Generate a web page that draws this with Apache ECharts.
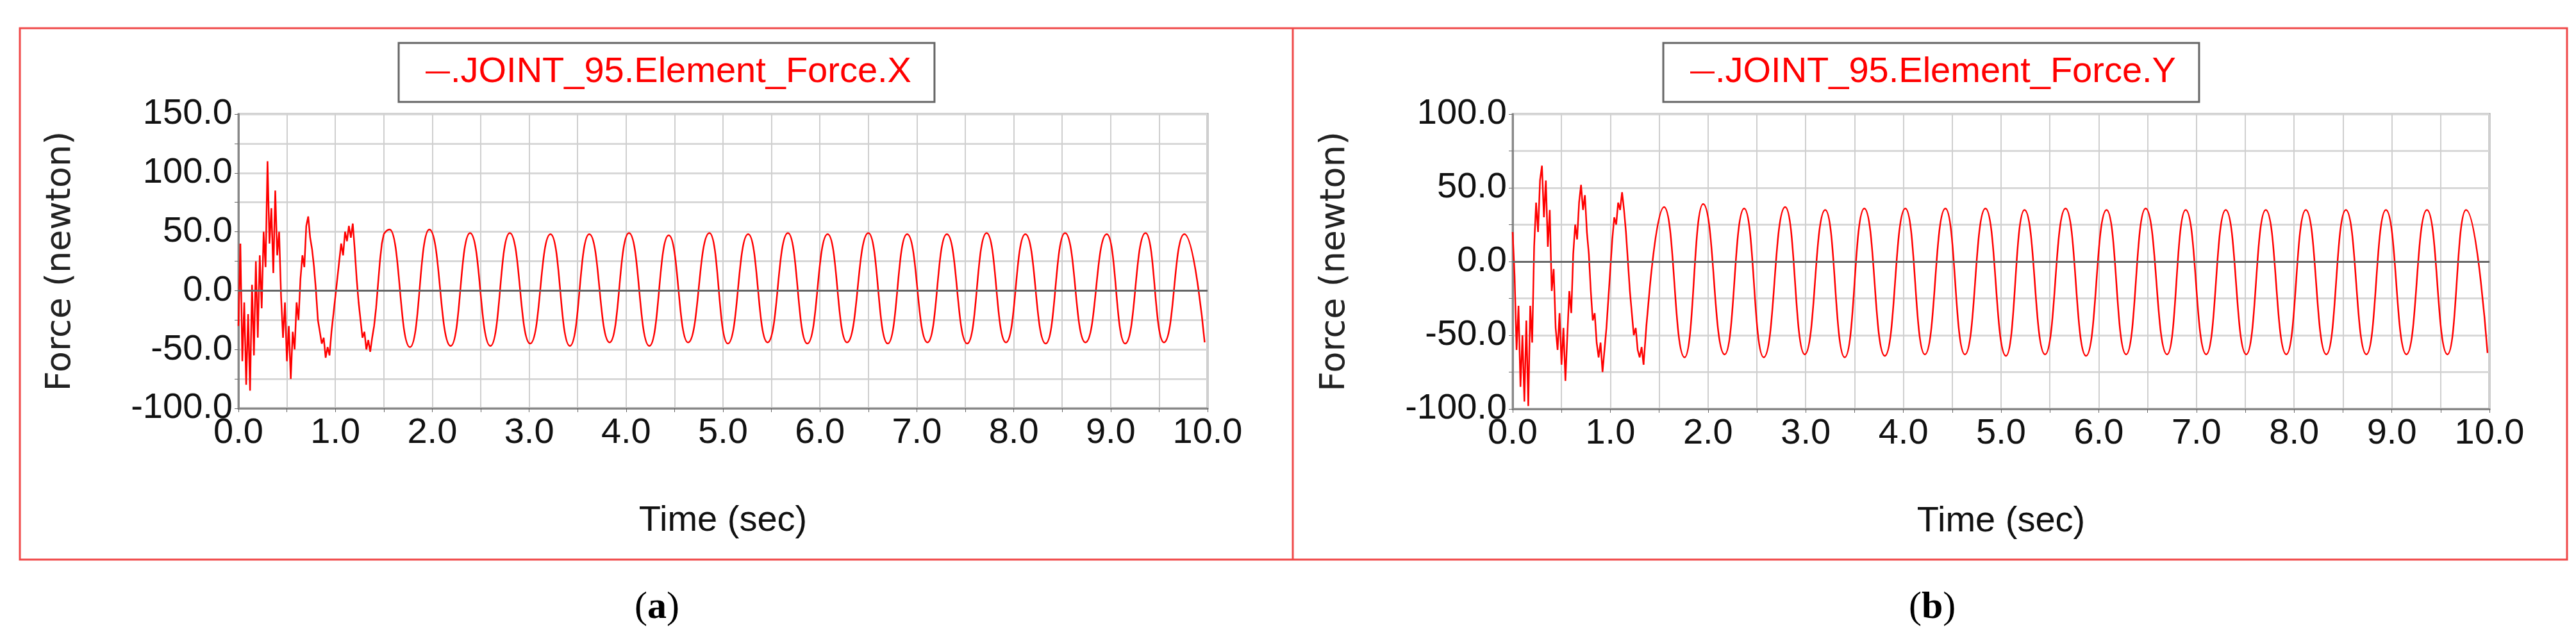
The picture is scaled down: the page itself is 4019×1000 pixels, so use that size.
<!DOCTYPE html>
<html>
<head>
<meta charset="utf-8">
<script src="https://cdn.jsdelivr.net/npm/echarts@6/dist/echarts.min.js"></script>
<style>html,body{margin:0;padding:0;background:#fff}#chart{width:4019px;height:1000px}</style>
</head>
<body>
<div id="chart"></div>
<script>
// panel (a) - X force
var noiseA = [-30,40,-60,-10,-80,-20,-85,5,-55,25,-40,30,-15,50,20,110,40,70,15,85,30,50,-5,-40,-10,-60,-30,-75,-35,-50,
  -10,-25,10,30,20,55,63,45,35,20,0,-25,-35,-45,-40,-57,-48,-55,-35,-20,-5,10,25,40,30,50,42,55,45,57,
  35,10,-10,-25,-40,-35,-50,-42,-52,-40,-30,-15,5,25,40,48];
var peakTA = [1.56,1.97,2.39,2.80,3.22,3.62,4.03,4.44,4.86,5.26,5.67,6.08,6.50,6.90,7.31,7.72,8.12,8.53,8.96,9.36,9.76];
var peakVA = [52,52,49,49,48,48,49,47,49,48,49,48,49,48,48,49,48,49,48,49,48];
var troughTA = [1.77,2.19,2.60,3.01,3.42,3.83,4.24,4.64,5.05,5.46,5.87,6.28,6.70,7.11,7.52,7.92,8.33,8.74,9.15,9.55,9.97];
var troughVA = [-48,-47,-47,-45,-47,-44,-47,-44,-45,-44,-45,-44,-45,-44,-45,-44,-45,-44,-45,-44,-44];

// panel (b) - Y force
var noiseB = [20,-10,-60,-30,-85,-50,-95,-40,-98,-30,-55,10,40,20,55,65,30,55,10,35,-20,-5,-45,-60,-35,-70,-45,-81,-50,-20,
  -35,5,25,15,40,52,35,45,20,5,-20,-40,-35,-55,-65,-55,-75,-60,-45,-25,-5,15,30,25,40,35,47,35,20,0,
  -20,-35,-50,-45,-60,-65,-58,-70];
var peakTB = [1.55,1.95,2.37,2.79,3.20,3.60,4.02,4.43,4.84,5.24,5.66,6.08,6.48,6.89,7.30,7.71,8.12,8.53,8.94,9.36,9.76];
var peakVB = [37,39,36,37,35,36,36,36,36,35,36,35,36,35,35,35,35,35,35,35,35];
var troughTB = [1.76,2.17,2.57,2.99,3.40,3.81,4.22,4.63,5.05,5.45,5.87,6.28,6.70,7.10,7.51,7.92,8.33,8.74,9.15,9.57,9.98];
var troughVB = [-65,-63,-65,-63,-65,-64,-63,-63,-64,-63,-64,-63,-63,-63,-63,-63,-63,-63,-63,-63,-62];

var noiseStep = 0.02;
var red = '#ff0000';

function noisePts(arr) {
  return arr.map(function (v, i) { return [+(i * noiseStep).toFixed(2), v]; });
}
function steadyPts(noise, pt, pv, tt, tv) {
  var last = noise[noise.length - 1];
  var pts = [[(noise.length - 1) * noiseStep, last]];
  var all = [];
  pt.forEach(function (t, i) { all.push([t, pv[i]]); });
  tt.forEach(function (t, i) { all.push([t, tv[i]]); });
  all.sort(function (a, b) { return a[0] - b[0]; });
  return pts.concat(all);
}

var fmt = function (v) { return v.toFixed(1); };
var labelFont = { fontFamily: 'Liberation Sans', fontSize: 56, color: '#111' };

function xAxis(idx) {
  return {
    type: 'value', gridIndex: idx, min: 0, max: 10, interval: 1,
    name: 'Time (sec)', nameLocation: 'middle', nameGap: 148,
    nameTextStyle: labelFont,
    axisLine: { onZero: false, lineStyle: { color: '#888', width: 3 } },
    axisTick: { show: true, length: 6, lineStyle: { color: '#666' } },
    minorTick: { show: true, splitNumber: 2, length: 6, lineStyle: { color: '#666' } },
    axisLabel: Object.assign({ formatter: fmt, margin: 11 }, labelFont),
    splitLine: { show: true, lineStyle: { color: '#cfcfcf', width: 2 } },
    minorSplitLine: { show: true, lineStyle: { color: '#cfcfcf', width: 2 } }
  };
}
function yAxis(idx, min, max) {
  return {
    type: 'value', gridIndex: idx, min: min, max: max, interval: 50,
    name: 'Force (newton)', nameLocation: 'middle', nameGap: 250,
    nameTextStyle: { fontFamily: 'DejaVu Sans', fontSize: 54, color: '#222' },
    axisLine: { show: true, lineStyle: { color: '#888', width: 3 } },
    axisTick: { show: true, length: 6, lineStyle: { color: '#666' } },
    minorTick: { show: true, splitNumber: 2, length: 6, lineStyle: { color: '#666' } },
    axisLabel: Object.assign({ formatter: fmt, margin: 9 }, labelFont),
    splitLine: { show: true, lineStyle: { color: '#d8d8d8', width: 3 } },
    minorSplitLine: { show: true, lineStyle: { color: '#d8d8d8', width: 3 } }
  };
}
function lineSeries(name, idx, data, smooth) {
  return {
    name: name, type: 'line', xAxisIndex: idx, yAxisIndex: idx, data: data,
    showSymbol: false, smooth: smooth, smoothMonotone: smooth ? 'x' : undefined,
    lineStyle: { color: red, width: 2.5 }, itemStyle: { color: red },
    animation: false,
    markLine: {
      silent: true, symbol: 'none', label: { show: false },
      lineStyle: { color: '#666', width: 3, type: 'solid' },
      data: [{ yAxis: 0 }]
    }
  };
}
function legend(name, left) {
  return {
    data: [name], left: left, top: 67, orient: 'horizontal',
    icon: 'rect', itemWidth: 38, itemHeight: 3, itemGap: 4,
    backgroundColor: '#fff', borderColor: '#666', borderWidth: 3,
    padding: [18, 36, 18, 42],
    textStyle: { fontFamily: 'Liberation Sans', fontSize: 56, color: red, padding: [0, 0, 0, -4] }
  };
}

var nameA = '.JOINT_95.Element_Force.X';
var nameB = '.JOINT_95.Element_Force.Y';
var nA = noisePts(noiseA), nB = noisePts(noiseB);

var chart = echarts.init(document.getElementById('chart'));
chart.setOption({
  backgroundColor: '#fff',
  animation: false,
  grid: [
    { left: 372, top: 178, width: 1512, height: 459, show: true, borderColor: '#999', borderWidth: 3 },
    { left: 2360, top: 178, width: 1524, height: 460, show: true, borderColor: '#999', borderWidth: 3 }
  ],
  legend: [legend(nameA, 622), legend(nameB, 2595)],
  xAxis: [xAxis(0), xAxis(1)],
  yAxis: [yAxis(0, -100, 150), yAxis(1, -100, 100)],
  series: [
    lineSeries(nameA, 0, nA, false),
    lineSeries(nameA, 0, steadyPts(noiseA, peakTA, peakVA, troughTA, troughVA), 0.5),
    lineSeries(nameB, 1, nB, false),
    lineSeries(nameB, 1, steadyPts(noiseB, peakTB, peakVB, troughTB, troughVB), 0.5)
  ],
  graphic: [
    { type: 'rect', shape: { x: 31, y: 44, width: 3974, height: 829 }, style: { fill: null, stroke: '#f04848', lineWidth: 3 }, z: -1 },
    { type: 'line', shape: { x1: 2017, y1: 44, x2: 2017, y2: 873 }, style: { stroke: '#f04848', lineWidth: 3 }, z: -1 },
    { type: 'text', left: 990, top: 918, style: { text: '({b|a})', font: '60px "Liberation Serif"', fill: '#000',
      rich: { b: { fontFamily: 'Liberation Serif', fontSize: 60, fontWeight: 'bold' } } } },
    { type: 'text', left: 2978, top: 918, style: { text: '({b|b})', font: '60px "Liberation Serif"', fill: '#000',
      rich: { b: { fontFamily: 'Liberation Serif', fontSize: 60, fontWeight: 'bold' } } } }
  ]
});
</script>
</body>
</html>
